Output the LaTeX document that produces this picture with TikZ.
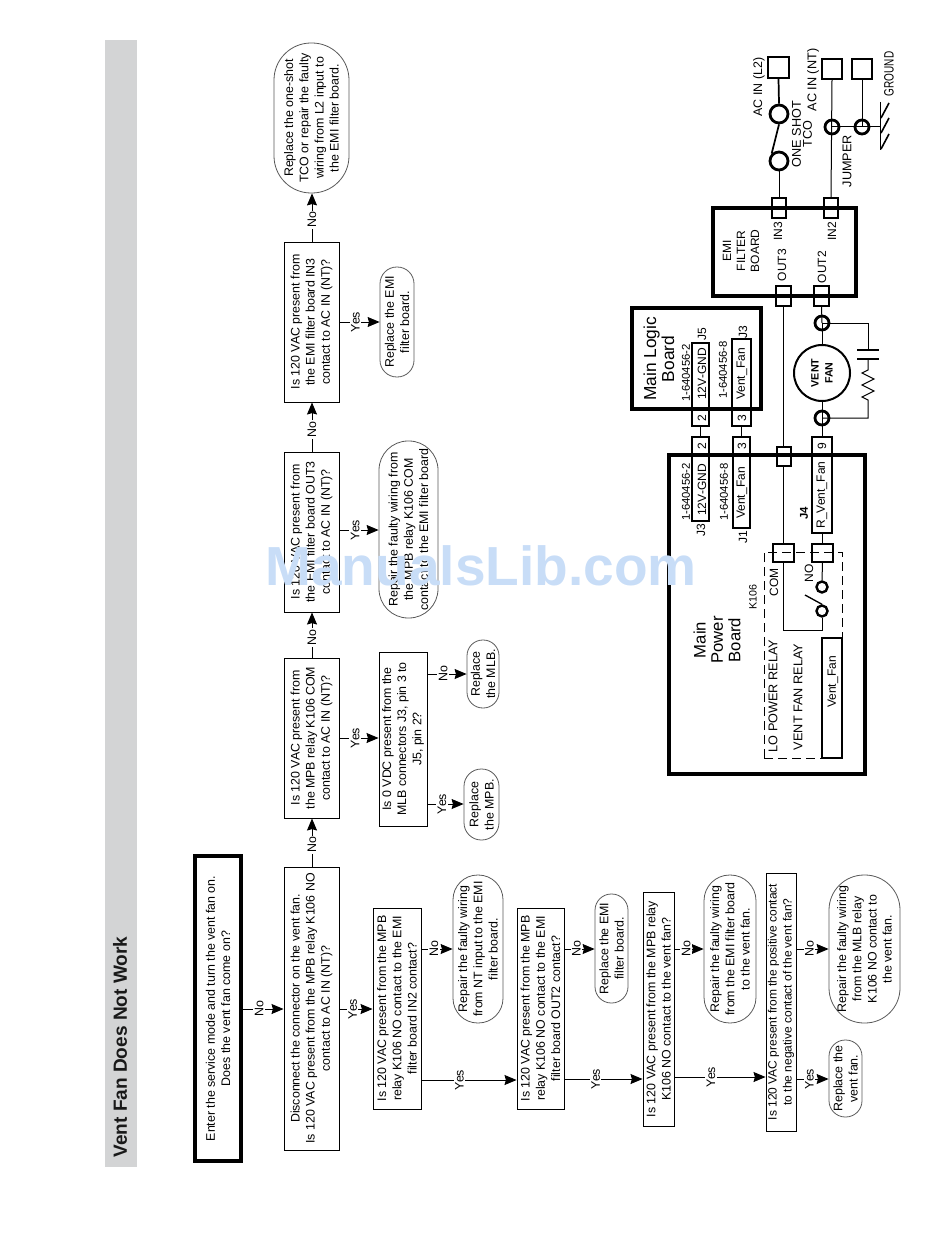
\documentclass[tikz,border=0pt]{standalone}
\usepackage{fontspec}
\setmainfont{Liberation Sans}
\usetikzlibrary{arrows.meta}
\definecolor{bandgray}{HTML}{D3D4D5}
\definecolor{markblue}{HTML}{C8DDF7}
\newcommand{\flowbox}[7]{\node[#1, minimum width={(#6-#5)*0.75pt}, minimum height={(#4-#3)*0.75pt}, rounded corners={(#4-#3)*0.37pt}] (#2) at ({(#3+#4)/2},{(#5+#6)/2}){#7};}
\newcommand{\plainbox}[7]{\node[#1, minimum width={(#6-#5)*0.75pt}, minimum height={(#4-#3)*0.75pt}] (#2) at ({(#3+#4)/2},{(#5+#6)/2}){#7};}
\newcommand{\linkH}[4]{\draw[arrow] (#1.south |- 0,#3) -- node[tag, pos=.4]{#4} (#2.north |- 0,#3);}
\newcommand{\linkV}[4]{\draw[arrow] (#1.east -| #3,0) -- node[tagflat, pos=.45]{#4} (#2.west -| #3,0);}

\begin{document}
\begin{tikzpicture}
                [
                x=0.75pt, y=-0.75pt,
                question/.style={rectangle,draw=black,line width=0.7pt,rotate=90,inner sep=0pt,align=center,font=\fontsize{9.3}{11.4}\selectfont},
                tightbox/.style={question,font=\fontsize{9}{11.4}\selectfont},
                startbox/.style={question,line width=2.8pt},
                reply/.style={question,draw=black!65,line width=0.6pt},
                arrow/.style={-{Stealth[length=9pt,width=7.5pt,inset=1pt]},line width=0.7pt},
                tag/.style={rotate=90,fill=white,inner sep=1pt,font=\fontsize{9.3}{11}\selectfont},
                tagflat/.style={tag},
                board/.style={rectangle,draw=black,line width=3pt,rotate=90,inner sep=0pt},
                pin/.style={rectangle,draw=black,line width=0.8pt,rotate=90,inner sep=0pt},
                plug/.style={pin,line width=1.3pt},
                wire/.style={line width=0.75pt},
                term/.style={circle,draw=black,line width=2.1pt,inner sep=0pt,minimum size=14pt*0.75},
                lab/.style={rotate=90,inner sep=0pt,align=center,font=\fontsize{9}{10}\selectfont},
                ]
                \useasboundingbox (0,0) rectangle (950,1237);
                \fill[bandgray] (105,40) rectangle (137,1167);
                \node[lab, font=\fontsize{14.3}{16}\selectfont\bfseries, text=black!90] (title) at (120,1047){Vent Fan Does Not Work};

                % flow chart
                \plainbox{startbox}{start}{195}{241}{856}{1161}{Enter the service mode and turn the vent fan on.\\Does the vent fan come on?}
                \plainbox{question}{qa}{284}{339}{867}{1150}{Disconnect the connector on the vent fan.\\Is 120 VAC present from the MPB relay K106 NO\\contact to AC IN (NT)?}
                \plainbox{question}{qb}{373}{421}{908}{1109}{Is 120 VAC present from the MPB\\relay K106 NO contact to the EMI\\filter board IN2 contact?}
                \plainbox{question}{qc}{517}{564}{908}{1109}{Is 120 VAC present from the MPB\\relay K106 NO contact to the EMI\\filter board OUT2 contact?}
                \plainbox{question}{qd}{643}{674}{892}{1126}{Is 120 VAC present from the MPB relay\\K106 NO contact to the vent fan?}
                \plainbox{tightbox}{qe}{766}{796}{873}{1131}{Is 120 VAC present from the positive contact\\to the negative contact of the vent fan?}
                \plainbox{question}{qf}{284}{339}{658}{818}{Is 120 VAC present from\\the MPB relay K106 COM\\contact to AC IN (NT)?}
                \plainbox{question}{qg}{284}{339}{452}{612}{Is 120 VAC present from\\the EMI filter board OUT3\\contact to AC IN (NT)?}
                \plainbox{question}{qh}{284}{339}{242}{402}{Is 120 VAC present from\\the EMI filter board IN3\\contact to AC IN (NT)?}
                \plainbox{question}{qi}{379}{427}{652}{826}{Is 0 VDC present from the\\MLB connectors J3, pin 3 to\\J5, pin 2?}
                \flowbox{reply}{ra}{453}{503}{875}{1023}{Repair the faulty wiring\\from NT input to the EMI\\filter board.}
                \flowbox{reply}{rb}{595}{628}{894}{1003}{Replace the EMI\\filter board.}
                \flowbox{reply}{rc}{704}{756}{875}{1023}{Repair the faulty wiring\\from the EMI filter board\\to the vent fan.}
                \flowbox{reply}{rd}{829}{900}{875}{1023}{Repair the faulty wiring\\from the MLB relay\\K106 NO contact to\\the vent fan.}
                \flowbox{reply}{re}{829}{862}{1040}{1117}{Replace the\\vent fan.}
                \flowbox{reply}{rf}{274}{349}{43}{193}{Replace the one-shot\\TCO or repair the faulty\\wiring from L2 input to\\the EMI filter board.}
                \flowbox{reply}{rg}{380}{414}{267}{377}{Replace the EMI\\filter board.}
                \flowbox{reply}{rh}{379}{438}{441}{618}{Repair the faulty wiring from\\the MPB relay K106 COM\\contact to the EMI filter board}
                \flowbox{reply}{ri}{467}{499}{640}{708}{Replace\\the MLB.}
                \flowbox{reply}{rj}{464}{499}{769}{840}{Replace\\the MPB.}

                \linkH{start}{qa}{1009}{No}
                \linkH{qa}{qb}{1009}{Yes}
                \linkH{qb}{qc}{1080}{Yes}
                \linkH{qc}{qd}{1079}{Yes}
                \linkH{qd}{qe}{1077}{Yes}
                \linkH{qe}{re}{1079}{Yes}
                \linkH{qb}{ra}{949}{No}
                \linkH{qc}{rb}{949}{No}
                \linkH{qd}{rc}{949}{No}
                \linkH{qe}{rd}{949}{No}
                \linkH{qh}{rg}{322}{Yes}
                \linkH{qg}{rh}{530}{Yes}
                \linkH{qf}{qi}{738}{Yes}
                \linkH{qi}{ri}{674}{No}
                \linkH{qi}{rj}{804}{Yes}
                \linkV{qa}{qf}{312}{No}
                \linkV{qf}{qg}{312}{No}
                \linkV{qg}{qh}{312}{No}
                \linkV{qh}{rf}{312}{No}

                % boards
                \plainbox{board}{mlb}{632}{761}{308}{409}{}
                \plainbox{board}{emi}{713}{856}{208}{296}{}
                \plainbox{board}{mpb}{669}{865}{455}{774}{}

                % line side
                \plainbox{plug}{acla}{768}{789}{57}{78}{}
                \plainbox{pin}{acnt}{822}{842}{59}{79}{}
                \plainbox{pin}{acgd}{852}{872}{59}{79}{}
                \node[term, minimum size=18*0.75pt] (tcoa) at (779,114){};
                \node[term, minimum size=18*0.75pt] (tcob) at (779,161){};
                \node[term] (jumpa) at (832,127){};
                \node[term] (jumpb) at (862,127){};
                \coordinate (gnd) at (880,127);
                \plainbox{pin}{inc}{772}{786}{198}{218}{}
                \plainbox{pin}{inb}{824}{838}{198}{218}{}
                \plainbox{pin}{outc}{776}{791}{286}{306}{}
                \plainbox{pin}{outb}{814}{829}{286}{306}{}
                \draw[wire, line width=1.3pt] (acla.west) -- (tcoa.north);
                \draw[wire, line width=1.3pt] (tcoa.south) -- (tcob.north west);
                \draw[wire] (tcob.south) -- (inc.east);
                \draw[wire] (acnt.west) -- (inb.east);
                \draw[wire] (acgd.west) -- (jumpb.center);
                \draw[wire] (jumpa.center) -- (gnd);
                \draw[wire] (880,102) -- (880,150);
                \foreach \y in {118,133,149}
                    \draw[wire, line width=1.2pt] (881,\y) -- (889,\y-15);

                % fan
                \node[term] (fana) at (822,323){};
                \node[term] (fanb) at (822,418){};
                \node[circle,draw=black,line width=1.5pt,inner sep=0pt,minimum size=56*0.75pt,align=center,font=\fontsize{8}{10.5}\selectfont\bfseries,rotate=90] (fan) at (822,373){VENT\\FAN};
                \draw[wire] (outb.west) -- (fana.center);
                \draw[wire] (fana.center) -- (fan.east);
                \draw[wire] (fan.west) -- (fanb.center);
                \draw[wire] (fana.center) -- (868,323) -- (868,350);
                \draw[wire, line width=1.5pt] (857,350) -- (879,350);
                \draw[wire, line width=1.5pt] (857,359) -- (879,359);
                \draw[wire] (868,359) -- (868,370) -- (862,373) -- (874,379) -- (862,385) -- (874,391) -- (862,397) -- (868,400) -- (868,418) -- (fanb.center);

                % connector pairs
                \plainbox{pin}{mlbgnd}{692}{709}{343}{426}{}
                \plainbox{pin}{mlbfan}{732}{751}{339}{426}{}
                \plainbox{pin}{mpbgnd}{692}{709}{437}{521}{}
                \plainbox{pin}{mpbfan}{733}{750}{437}{528}{}
                \plainbox{pin}{mpbrly}{812}{832}{437}{533}{}
                \plainbox{pin}{mpbout}{777}{791}{447}{466}{}
                \plainbox{pin}{comsq}{773}{794}{544}{562}{}
                \plainbox{pin}{nosq}{812}{833}{544}{562}{}
                \draw[wire] (mlbgnd.west) -- (mpbgnd.east);
                \draw[wire] (mlbfan.west) -- (mpbfan.east);
                \draw[wire] (fanb.center) -- (mpbrly.east);
                \draw[wire] (outc.west) -- (outc.west |- mpbout.east);
                \draw[wire] (outc.west |- mpbout.west) -- (outc.west |- comsq.east);
                \draw[wire] (mpbrly.west) -- (mpbrly.west |- nosq.east);

                % relay
                \draw[dashed, wire, dash pattern=on 7pt off 3.5pt] (764,758) -- (764,552) -- (842,552) -- (842,638);
                \draw[dashed, wire, dash pattern=on 7pt off 3.5pt] (764,758) -- (822,758);
                \plainbox{pin}{coil}{822}{842}{638}{758}{}
                \node[term, line width=1.8pt, minimum size=11*0.75pt] (noterm) at (822,587){};
                \node[term, line width=1.8pt, minimum size=11*0.75pt] (comterm) at (822,611){};
                \coordinate (bladetip) at (805,595);
                \draw[wire] (nosq.west) -- (noterm.north);
                \draw[wire, line width=1pt] (comterm.north) -- (bladetip);
                \draw[wire] (comterm.south) -- (822,630) -- (comsq.west |- 0,630) -- (comsq.west);

                % labels
                \node[lab, font=\fontsize{13}{13.5}\selectfont] (mlbname) at (659,359){Main Logic\\Board};
                \node[lab, font=\fontsize{8.5}{9}\selectfont] (mlbpa) at (686,373){1-640456-2};
                \node[lab, font=\fontsize{8.5}{9}\selectfont] (mlbpb) at (723,370){1-640456-8};
                \node[lab] (mlbga) at (702,374){12V-GND};
                \node[lab] (mlbfa) at (742,374){Vent\_Fan};
                \node[lab] (jfive) at (702,334){J5};
                \node[lab] (jthree) at (743,332){J3};
                \node[lab] (pinmla) at (702,418){2};
                \node[lab] (pinmlb) at (742,418){3};
                \node[lab] (pinmpa) at (702,446){2};
                \node[lab] (pinmpb) at (742,446){3};
                \node[lab] (pinmpc) at (822,446){9};
                \node[lab, font=\fontsize{8.5}{9}\selectfont] (mpbpa) at (686,492){1-640456-2};
                \node[lab, font=\fontsize{8.5}{9}\selectfont] (mpbpb) at (724,492){1-640456-8};
                \node[lab] (mpbga) at (702,490){12V-GND};
                \node[lab] (mpbfa) at (742,493){Vent\_Fan};
                \node[lab] (mpbra) at (822,495){R\_Vent\_Fan};
                \node[lab] (jthreeb) at (701,530){J3};
                \node[lab] (jone) at (743,537){J1};
                \node[lab, font=\fontsize{8.5}{9}\selectfont\bfseries] (jfour) at (804,513){J4};
                \node[lab, font=\fontsize{12.5}{13}\selectfont] (mpbname) at (717,640){Main\\Power\\Board};
                \node[lab, font=\fontsize{8}{9}\selectfont] (kname) at (753,597){K106};
                \node[lab] (comname) at (774,582){COM};
                \node[lab] (noname) at (809,573){NO};
                \node[lab, font=\fontsize{9.5}{10}\selectfont] (lopower) at (773,696){LO POWER RELAY};
                \node[lab, font=\fontsize{9.5}{10}\selectfont] (ventrly) at (798,697){VENT FAN RELAY};
                \node[lab] (coilname) at (833,682){Vent\_Fan};
                \node[lab, font=\fontsize{9}{10.5}\selectfont] (eminame) at (741,251){EMI\\FILTER\\BOARD};
                \node[lab] (inthree) at (778,231){IN3};
                \node[lab] (outthree) at (782,265){OUT3};
                \node[lab] (intwo) at (832,231){IN2};
                \node[lab] (outtwo) at (822,267){OUT2};
                \node[lab, font=\fontsize{9.3}{10}\selectfont] (aclname) at (759,87){AC IN (L2)};
                \node[lab, font=\fontsize{9.5}{10}\selectfont] (acnname) at (813,80){AC IN (NT)};
                \node[lab, font=\fontsize{9.5}{8.3}\selectfont] (tconame) at (802,134){ONE SHOT\\TCO};
                \node[lab, font=\fontsize{9.5}{10}\selectfont] (jumpname) at (847,161){JUMPER};
                \node[xscale=1.35, lab, font=\fontsize{7.5}{9}\selectfont] (gndname) at (889,74){GROUND};

                \node[inner sep=0pt, text=markblue, font=\fontsize{41.3}{44}\selectfont\bfseries] (mark) at (481,566){ManualsLib.com};
            \end{tikzpicture}
\end{document}
